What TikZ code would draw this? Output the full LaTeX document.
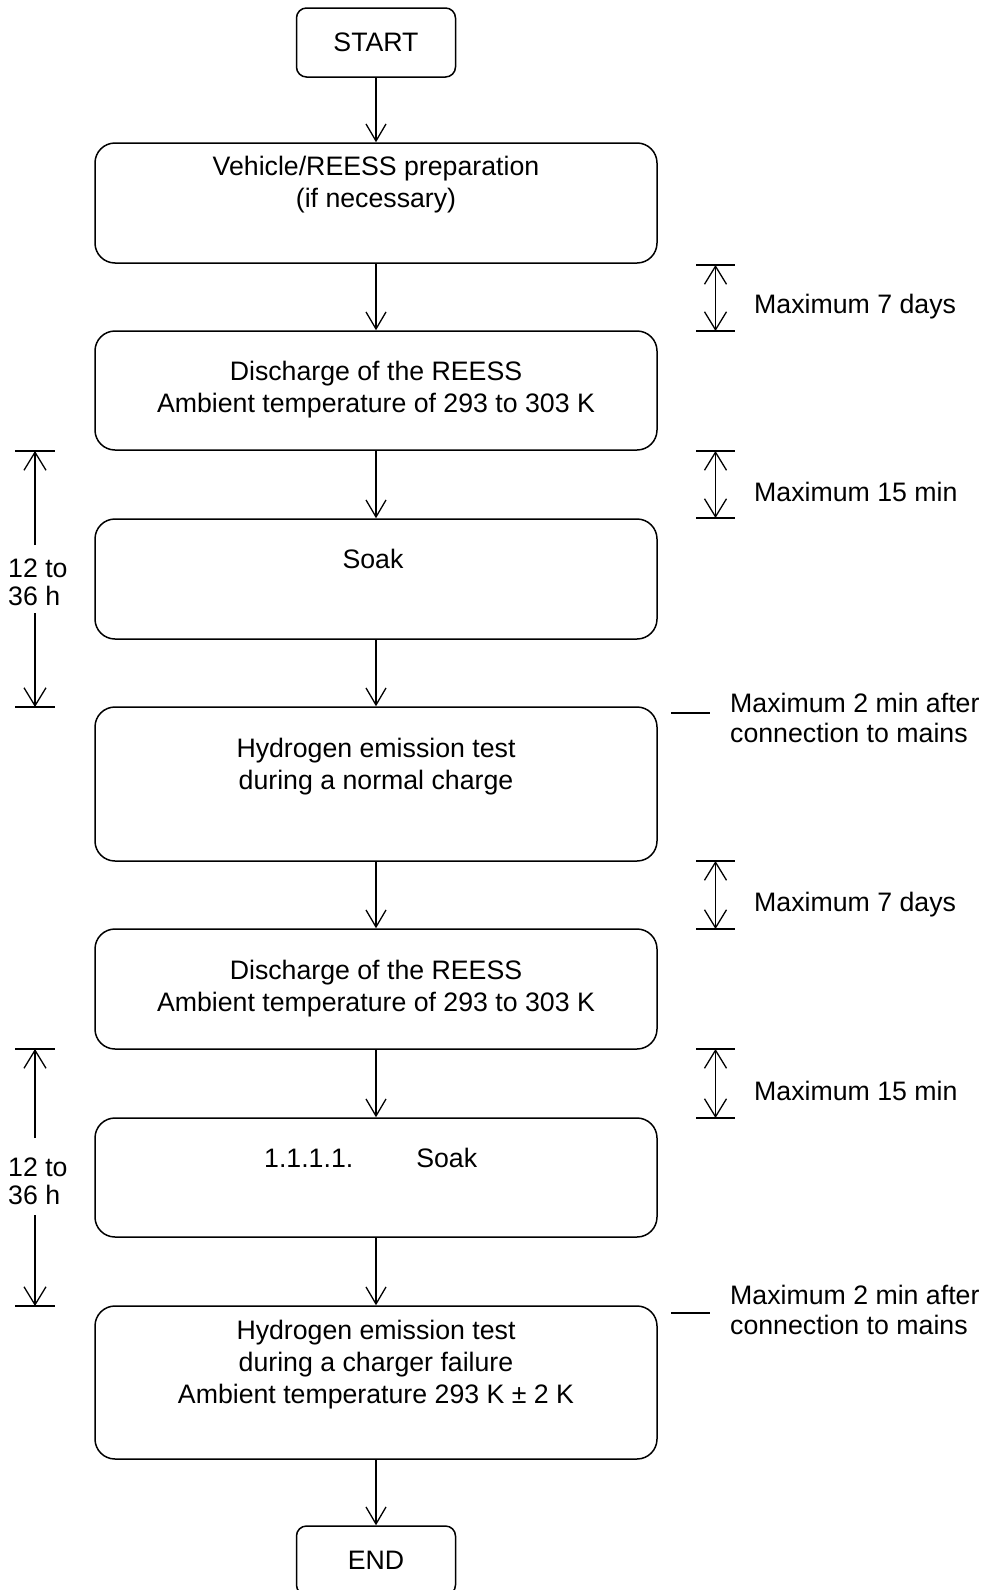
\documentclass[tikz,border=0pt]{standalone}
\usepackage{fontspec}
\setmainfont{Liberation Sans}
\usetikzlibrary{arrows.meta}
\begin{document}
\begin{tikzpicture}[x=1pt,y=-1pt,
  box/.style={draw=black, line width=1.5pt, rounded corners=20pt, minimum width=562pt, inner sep=0pt},
  term/.style={draw=black, line width=1.5pt, rounded corners=10pt, minimum width=159pt, minimum height=69pt, inner sep=0pt, font=\fontsize{26.7}{32}\selectfont},
  btext/.style={align=center, inner sep=0pt, anchor=north, font=\fontsize{26.7}{32}\selectfont},
  ntext/.style={align=left, inner sep=0pt, anchor=north west, font=\fontsize{26.7}{30}\selectfont},
  ltext/.style={align=left, inner sep=0pt, anchor=north west, font=\fontsize{26.7}{28}\selectfont},
  mtext/.style={inner sep=0pt, anchor=base west, font=\fontsize{26.7}{32}\selectfont},
  conn/.style={line width=1.3pt, -{Straight Barb[length=17pt,width=20pt]}},
  dimarr/.style={line width=1.3pt, {Straight Barb[length=18pt,width=22pt]}-{Straight Barb[length=18pt,width=22pt]}},
  onearr/.style={line width=1.3pt, -{Straight Barb[length=18pt,width=22pt]}},
  tick/.style={line width=1.5pt}
]
\useasboundingbox (0,0) rectangle (987,1590);
\clip (0,0) rectangle (987,1590);

% boxes
\node[term] (start) at (376,42.5) {START};
\node[box, minimum height=120pt] (prep) at (376,203) {};
\node[box, minimum height=119pt] (dis1) at (376,390.5) {};
\node[box, minimum height=120pt] (soak1) at (376,579) {};
\node[box, minimum height=154pt] (hyd1) at (376,784) {};
\node[box, minimum height=120pt] (dis2) at (376,989) {};
\node[box, minimum height=119pt] (soak2) at (376,1177.5) {};
\node[box, minimum height=153pt] (hyd2) at (376,1382.5) {};
\node[term] (end) at (376,1560.5) {END};

% box texts
\node[btext] (prepT) at (376,153.2) {\strut Vehicle/REESS preparation\\\strut (if necessary)};
\node[btext] (dis1T) at (376,358.2) {\strut Discharge of the REESS\\\strut Ambient temperature of 293 to 303 K};
\node[btext] (soak1T) at (373,546.2) {\strut Soak};
\node[btext] (hyd1T) at (376,735.2) {\strut Hydrogen emission test\\\strut during a normal charge};
\node[btext] (dis2T) at (376,957.2) {\strut Discharge of the REESS\\\strut Ambient temperature of 293 to 303 K};
\node[btext, anchor=north west] (soak2T) at (264,1145.2) {\strut 1.1.1.1.\hspace{63pt}Soak};
\node[btext] (hyd2T) at (376,1317.2) {\strut Hydrogen emission test\\\strut during a charger failure\\\strut Ambient temperature 293 K ± 2 K};

% connectors
\draw[conn] (start) -- (prep);
\draw[conn] (prep) -- (dis1);
\draw[conn] (dis1) -- (soak1);
\draw[conn] (soak1) -- (hyd1);
\draw[conn] (hyd1) -- (dis2);
\draw[conn] (dis2) -- (soak2);
\draw[conn] (soak2) -- (hyd2);
\draw[conn] (hyd2) -- (end);

% right dimensions
\foreach \n/\ya/\yb in {A/265/331, B/451/518, C/861/929, D/1049/1118}{
  \coordinate (r\n1) at (715.5,\ya);
  \coordinate (r\n2) at (715.5,\yb);
  \draw[tick] ([xshift=-19.5pt]r\n1) -- ([xshift=19.5pt]r\n1);
  \draw[tick] ([xshift=-19.5pt]r\n2) -- ([xshift=19.5pt]r\n2);
  \draw[dimarr] (r\n1) -- (r\n2);
}
\node[mtext] (mA) at (754,313) {Maximum 7 days};
\node[mtext] (mB) at (754,501.7) {Maximum 15 min};
\node[mtext] (mC) at (754,911) {Maximum 7 days};
\node[mtext] (mD) at (754,1100) {Maximum 15 min};

% notes at hydrogen tests
\coordinate (n1a) at (671,713); \coordinate (n1b) at (710,713);
\draw[tick] (n1a) -- (n1b);
\node[ntext] (note1) at (730,691.6) {\strut Maximum 2 min after\\\strut connection to mains};
\coordinate (n2a) at (671,1313); \coordinate (n2b) at (710,1313);
\draw[tick] (n2a) -- (n2b);
\node[ntext] (note2) at (730,1283.6) {\strut Maximum 2 min after\\\strut connection to mains};

% left dimensions
\foreach \n/\ya/\ma/\mb/\yb in {1/451/545/613/707, 2/1049/1138/1215/1306}{
  \coordinate (l\n t) at (35,\ya);
  \coordinate (l\n a) at (35,\ma);
  \coordinate (l\n b) at (35,\mb);
  \coordinate (l\n e) at (35,\yb);
  \draw[tick] ([xshift=-20pt]l\n t) -- ([xshift=20pt]l\n t);
  \draw[tick] ([xshift=-20pt]l\n e) -- ([xshift=20pt]l\n e);
  \draw[onearr] (l\n a) -- (l\n t);
  \draw[onearr] (l\n b) -- (l\n e);
}
\node[ltext] (left1) at (8,558) {\strut 12 to\\\strut 36 h};
\node[ltext] (left2) at (8,1157) {\strut 12 to\\\strut 36 h};
\end{tikzpicture}
\end{document}
